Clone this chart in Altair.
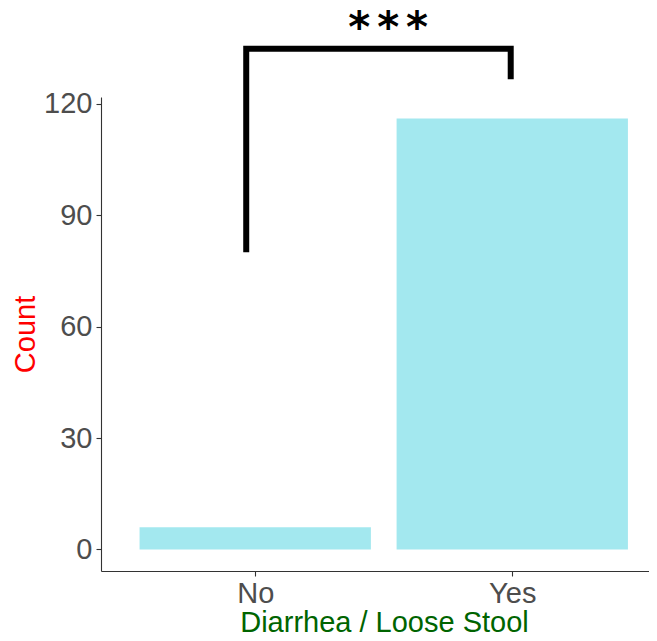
import json
import altair as alt
import pandas as pd

# ---- data ----
categories = ["No", "Yes"]
counts = [6, 116]
y_ticks = [0, 30, 60, 90, 120]
bracket_x = [0.965, 0.965, 1.994, 1.994]
bracket_y = [80, 134.8, 134.8, 126.6]
sig_label = ["*\u2006*\u2006*"]
sig_x = [1.517]
sig_y = [136.7]

bars = pd.DataFrame({"cat": categories, "count": counts})
bars["pos"] = list(range(1, len(categories) + 1))
bars["x0"] = bars["pos"] - 0.45
bars["x1"] = bars["pos"] + 0.45

bracket = pd.DataFrame({"bx": bracket_x, "by": bracket_y, "o": list(range(len(bracket_x)))})
sig = pd.DataFrame({"lab": sig_label, "sx": sig_x, "sy": sig_y})

FONT = "Liberation Sans"
xscale = alt.Scale(domain=[0.4, 2.532], nice=False, zero=False)
yscale = alt.Scale(domain=[-5.8, 121.8], nice=False, zero=False)
label_expr = f"{json.dumps(categories)}[datum.value - 1]"

x_axis = alt.Axis(
    values=[1, 2], labelExpr=label_expr, title="Diarrhea / Loose Stool",
    titleColor="#006400", titleFontSize=29, titleFont=FONT, titleFontWeight="normal",
    labelFontSize=29, labelFont=FONT, labelColor="#4D4D4D", labelPadding=3,
    tickSize=5, tickColor="#333333", tickWidth=1.1, domainColor="#333333", domainWidth=1.1,
    grid=False, labelFlush=False, labelOverlap=False,
    titleX=283, titleY=60, titleBaseline="alphabetic", titleAlign="center", titleAnchor="start",
)
y_axis = alt.Axis(
    values=y_ticks, title="Count", titleColor="red", titleFontSize=29, titleFont=FONT,
    titleFontWeight="normal", labelFontSize=29, labelFont=FONT, labelColor="#4D4D4D",
    labelPadding=4, tickSize=5, tickColor="#333333", tickWidth=1.1, domainColor="#333333",
    domainWidth=1.1, grid=False, labelFlush=False, labelOverlap=False,
    titleX=-67, titleY=237, titleAngle=-90, titleBaseline="alphabetic", titleAlign="center",
    titleAnchor="start",
)

bar_layer = alt.Chart(bars).mark_bar(color="#a3e8ef").encode(
    x=alt.X("x0:Q", scale=xscale, axis=x_axis),
    x2="x1:Q",
    y=alt.Y("count:Q", scale=yscale, axis=y_axis),
    y2=alt.datum(0),
)

bracket_layer = alt.Chart(bracket).mark_line(
    color="black", strokeWidth=6, strokeCap="butt", strokeJoin="miter"
).encode(
    x=alt.X("bx:Q", scale=xscale, axis=x_axis),
    y=alt.Y("by:Q", scale=yscale, axis=y_axis),
    order="o:Q",
)

sig_layer = alt.Chart(sig).mark_text(
    fontSize=42, font="DejaVu Sans", fontWeight="bold", baseline="alphabetic",
    align="center", color="black"
).encode(
    x=alt.X("sx:Q", scale=xscale, axis=x_axis),
    y=alt.Y("sy:Q", scale=yscale, axis=y_axis),
    text="lab:N",
)

chart = alt.layer(bar_layer, bracket_layer, sig_layer).properties(
    width=548, height=474,
    autosize=alt.AutoSizeParams(type="none"),
    padding={"left": 93, "top": 89, "right": 0, "bottom": 62},
    background="white",
).configure_view(stroke=None)

chart.save("out.html", embed_options={"renderer": "svg", "actions": False})
